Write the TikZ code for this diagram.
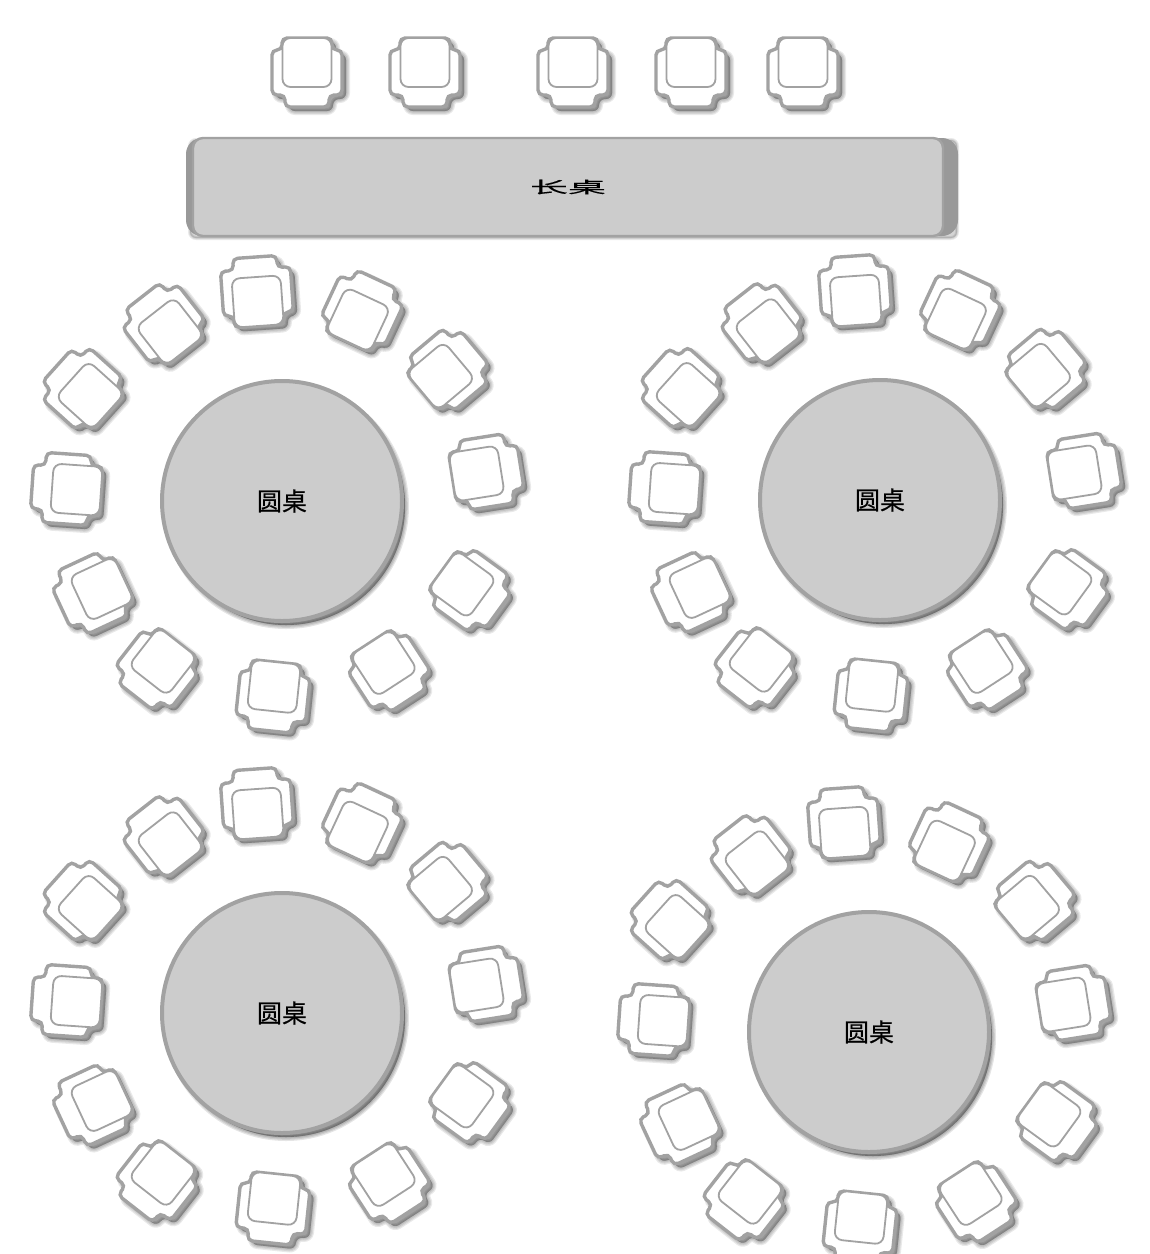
\documentclass[tikz,border=0pt]{standalone}
\usepackage{fontspec}
\newfontfamily\cjk[FakeBold=.4]{Noto Sans CJK SC}
\definecolor{linegray}{HTML}{A2A2A2}
\definecolor{bandgray}{HTML}{999999}
\definecolor{topgray}{HTML}{CCCCCC}
\tikzset{
    seatline/.style = {draw=linegray, line width=1.7pt, rounded corners=2.5pt, fill=white},
    seatinner/.style = {draw=linegray, line width=.9pt, rounded corners=4pt, fill=white},
    softshade/.style = {draw=black, fill=black, opacity=.085, rounded corners=3pt},
    roundtop/.style = {draw=linegray, line width=2pt, fill=topgray, circle, minimum size=120pt, inner sep=0pt, font=\cjk\fontsize{12.5pt}{14pt}\selectfont},
    longtop/.style = {draw=linegray, line width=1.2pt, fill=topgray, rounded corners=5pt, minimum width=375pt, minimum height=49pt, inner sep=0pt}
}
\newcommand{\chairpath}{(-25,-34) -- (25,-34) -- (25,-22) -- (35,-22) -- (35,23) -- (22,23) -- (22,35) -- (-22,35) -- (-22,23) -- (-35,23) -- (-35,-22) -- (-25,-22) -- cycle}
% shade falls down-right whatever the turn of the chair
\newcommand{\drawchair}[3]{
    \foreach \w in {4pt,2.8pt,1.6pt,.4pt}{
        \draw [softshade, line width=\w, shift={({#1+4},{#2+4})}, rotate=#3] \chairpath;
    }
    \begin{scope}[shift={(#1,#2)}, rotate=#3]
        \draw [seatline] \chairpath;
        \draw [seatinner] (-24.5,-34) rectangle (24.5,15);
    \end{scope}
}
\begin{document}
\begin{tikzpicture}[x=.5pt,y=-.5pt]
    \useasboundingbox (0,0) rectangle (1150,1254);
    % long table
    \foreach \w in {2pt,1pt}{
        \draw [softshade, line width=\w] (190,140) rectangle (957,238);
    }
    \fill [bandgray, rounded corners=8pt] (186,138) rectangle (958,236);
    \node [longtop] (longtable) at (568,187) {\cjk\fontsize{19pt}{20pt}\selectfont\scalebox{1}[.42]{长桌}};
    \foreach \cx in {307,425,573,691,803}{
        \drawchair{\cx}{72}{0}
    }
    % round tables
    \foreach \tx/\ty/\tn in {282/501/a,880/500/b,282/1013/c,869/1032/d}{
        \begin{scope}[shift={(\tx,\ty)}]
            \foreach \w in {4pt,2.8pt,1.6pt,.4pt}{
                \draw [softshade, opacity=.1, line width=\w] (4,5) circle [radius=119];
            }
            \node [roundtop] (table\tn) at (0,0) {圆桌};
            \foreach \px/\py/\rot in {-25/-209/184,-118/-177/218,-199/-112/228,-215/-12/266,-189/92/295,-125/168/322,-9/195/354,107/170/33,188/89/54,204/-29/99,166/-131/130,80/-190/155}{
                \drawchair{\px}{\py}{\rot}
            }
        \end{scope}
    }
\end{tikzpicture}
\end{document}
